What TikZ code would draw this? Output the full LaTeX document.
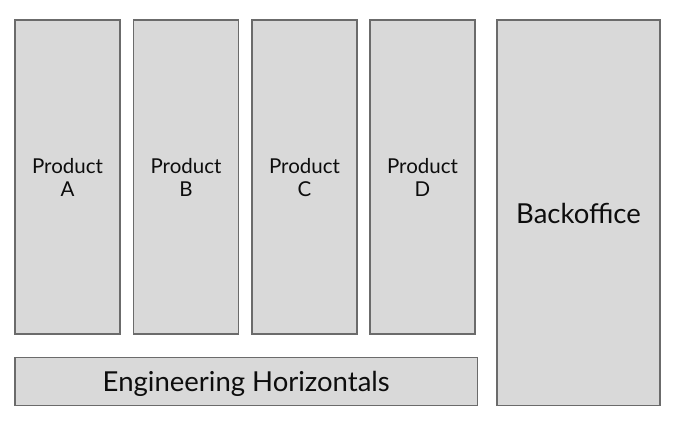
\documentclass[tikz,border=0pt]{standalone}
\usepackage{fontspec}
\setmainfont{Lato}
\begin{document}
\begin{tikzpicture}[x=1pt,y=-1pt,
  box/.style={draw=black!58,line width=1.6pt,fill=black!15,inner sep=0pt},
  small/.style={font=\fontsize{20.5}{22.5}\selectfont,align=center,text=black!95},
  big/.style={font=\fontsize{27.5}{30}\selectfont,text=black!95}]
\useasboundingbox (0,0) rectangle (676,422);
\foreach \n/\l/\x in {a/A/15,b/B/133.5,c/C/252,d/D/370}{
  \draw[box] (\x,20) rectangle ++(105,314);
  \node[small] (\n) at (\x+52.5,177.5) {Product\\\l};
}
\draw[box] (15,357.5) rectangle (477.5,405.5);
\node[big] (eng) at (246.25,383.5) {Engineering Horizontals};
\draw[box] (497,20) rectangle (660,405.5);
\node[big] (bo) at (578.5,213) {Backoffice};
\end{tikzpicture}
\end{document}
